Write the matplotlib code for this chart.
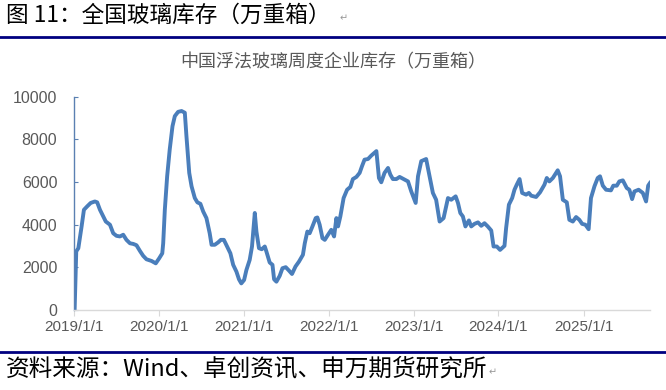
import matplotlib
matplotlib.use("Agg")
import matplotlib.pyplot as plt
import pandas as pd
from matplotlib.lines import Line2D

plt.rcParams['font.family'] = ['Liberation Sans', 'Noto Sans CJK SC', 'DejaVu Sans']

header = "图 11：全国玻璃库存（万重箱）"
title = "中国浮法玻璃周度企业库存（万重箱）"
footer = "资料来源：Wind、卓创资讯、申万期货研究所"

dates = [
    "2019-01-04", "2019-01-11", "2019-01-20", "2019-02-03", "2019-02-13", "2019-02-27",
    "2019-03-14", "2019-04-01", "2019-04-11", "2019-04-23", "2019-05-07", "2019-05-18",
    "2019-06-05", "2019-06-19", "2019-07-03", "2019-07-18", "2019-08-01", "2019-08-15",
    "2019-08-30", "2019-09-13", "2019-09-27", "2019-10-12", "2019-10-26", "2019-11-09",
    "2019-12-01", "2019-12-19", "2020-01-03", "2020-01-16", "2020-01-20", "2020-01-27",
    "2020-02-06", "2020-02-17", "2020-02-29", "2020-03-10", "2020-03-24", "2020-04-08",
    "2020-04-22", "2020-04-29", "2020-05-11", "2020-05-21", "2020-06-04", "2020-06-15",
    "2020-06-28", "2020-07-10", "2020-07-24", "2020-08-07", "2020-08-15", "2020-08-29",
    "2020-09-12", "2020-09-24", "2020-10-07", "2020-10-21", "2020-11-04", "2020-11-16",
    "2020-11-30", "2020-12-11", "2020-12-21", "2021-01-02", "2021-01-12", "2021-01-26",
    "2021-02-05", "2021-02-17", "2021-02-24", "2021-03-07", "2021-03-19", "2021-04-01",
    "2021-04-08", "2021-04-22", "2021-05-04", "2021-05-11", "2021-05-21", "2021-06-04",
    "2021-06-16", "2021-06-30", "2021-07-14", "2021-07-27", "2021-08-11", "2021-08-26",
    "2021-09-12", "2021-09-20", "2021-10-01", "2021-10-11", "2021-10-23", "2021-11-06",
    "2021-11-13", "2021-11-23", "2021-12-05", "2021-12-15", "2021-12-29", "2022-01-12",
    "2022-01-24", "2022-02-03", "2022-02-10", "2022-02-20", "2022-03-06", "2022-03-21",
    "2022-04-04", "2022-04-15", "2022-04-30", "2022-05-14", "2022-05-24", "2022-06-04",
    "2022-06-19", "2022-07-03", "2022-07-25", "2022-08-05", "2022-08-15", "2022-08-29",
    "2022-09-13", "2022-09-23", "2022-10-04", "2022-10-19", "2022-11-02", "2022-11-19",
    "2022-12-08", "2022-12-22", "2023-01-10", "2023-01-20", "2023-02-03", "2023-02-24",
    "2023-03-11", "2023-03-25", "2023-04-08", "2023-04-23", "2023-05-10", "2023-05-29",
    "2023-06-12", "2023-07-01", "2023-07-11", "2023-07-21", "2023-08-01", "2023-08-12",
    "2023-08-27", "2023-09-06", "2023-09-20", "2023-10-05", "2023-10-19", "2023-11-02",
    "2023-11-16", "2023-12-01", "2023-12-11", "2023-12-25", "2024-01-08", "2024-01-27",
    "2024-02-03", "2024-02-15", "2024-02-29", "2024-03-10", "2024-03-20", "2024-04-01",
    "2024-04-12", "2024-04-29", "2024-05-11", "2024-05-21", "2024-06-11", "2024-06-28",
    "2024-07-17", "2024-07-27", "2024-08-07", "2024-08-22", "2024-09-12", "2024-09-22",
    "2024-10-04", "2024-10-21", "2024-11-01", "2024-11-16", "2024-11-30", "2024-12-14",
    "2024-12-26", "2025-01-09", "2025-01-23", "2025-02-02", "2025-02-17", "2025-03-03",
    "2025-03-13", "2025-03-25", "2025-04-08", "2025-04-29", "2025-05-09", "2025-05-24",
    "2025-06-04", "2025-06-19", "2025-07-06", "2025-07-17", "2025-07-29", "2025-08-08",
    "2025-08-26", "2025-09-13", "2025-09-27", "2025-10-06", "2025-10-14",
]
inventory = [
    0, 2750, 2900, 3920, 4700, 4860,
    5020, 5090, 5050, 4700, 4390, 4150,
    4000, 3600, 3480, 3450, 3530, 3290,
    3130, 3100, 3040, 2770, 2540, 2380,
    2300, 2190, 2430, 2660, 3130, 4700,
    6270, 7520, 8620, 9090, 9290, 9330,
    9250, 8150, 6430, 5800, 5250, 5050,
    4980, 4620, 4310, 3600, 3060, 3060,
    3170, 3290, 3290, 2980, 2660, 2120,
    1800, 1440, 1250, 1410, 1880, 2350,
    2980, 4550, 3680, 2900, 2850, 2980,
    2740, 2230, 2120, 1440, 1330, 1600,
    1960, 2010, 1850, 1690, 2040, 2270,
    2590, 3130, 3680, 3600, 3920, 4310,
    4340, 4000, 3370, 3290, 3530, 3760,
    3450, 4310, 3920, 4390, 5250, 5640,
    5770, 6140, 6240, 6430, 6740, 7050,
    7080, 7240, 7450, 6190, 5990, 6430,
    6660, 6350, 6140, 6140, 6240, 6140,
    6030, 5560, 5020, 6270, 6980, 7080,
    6270, 5490, 5170, 4150, 4310, 5250,
    5170, 5330, 5020, 4550, 4390, 3920,
    4200, 3920, 4040, 4110, 3950, 4070,
    3920, 3730, 2980, 2980, 2820, 3010,
    3840, 4940, 5250, 5640, 5880, 6140,
    5490, 5410, 5490, 5360, 5300, 5520,
    5880, 6190, 6030, 6190, 6550, 6270,
    5170, 5050, 4230, 4150, 4360, 4230,
    4040, 4000, 3790, 5250, 5800, 6190,
    6270, 5830, 5640, 5610, 5830, 5830,
    6030, 6080, 5720, 5640, 5200, 5560,
    5640, 5490, 5090, 5830, 5960,
]
xtick_labels = ["2019/1/1", "2020/1/1", "2021/1/1", "2022/1/1", "2023/1/1", "2024/1/1", "2025/1/1"]
yticks = [0, 2000, 4000, 6000, 8000, 10000]

x = pd.to_datetime(dates)
xticks = pd.to_datetime([s.replace("/", "-") for s in xtick_labels])

fig = plt.figure(figsize=(6.66, 3.90), dpi=100)
fig.patch.set_facecolor("white")
ax = fig.add_axes([0.111, 0.205, 0.865, 0.547])

ax.plot(x, inventory, color="#4A7EBB", lw=2.8, solid_joinstyle="round")

ax.set_xlim(pd.Timestamp("2019-01-01"), pd.Timestamp("2025-10-14"))
ax.set_ylim(0, 10000)
ax.set_yticks(yticks)
ax.set_yticklabels([str(v) for v in yticks])
ax.set_xticks(xticks)
ax.set_xticklabels(xtick_labels)

for s in ["top", "right"]:
    ax.spines[s].set_visible(False)
ax.spines["left"].set_color("#5B80B2")
ax.spines["left"].set_linewidth(1.0)
ax.spines["bottom"].set_color("#D9D9D9")
ax.spines["bottom"].set_linewidth(1.0)
ax.tick_params(axis="y", direction="in", length=3, color="#5B80B2", labelsize=11.5,
               labelcolor="#595959", pad=12)
ax.tick_params(axis="x", direction="out", length=4, color="#D9D9D9", labelsize=11,
               labelcolor="#595959", pad=3)

fig.text(0.5, 1 - 62 / 390, title, ha="center", va="center", fontsize=13,
         color="#595959", family=["Noto Sans CJK SC", "DejaVu Sans"])

fig.text(6 / 666, 1 - 15 / 390, header, ha="left", va="center", fontsize=16.3,
         color="black", family=["Noto Sans CJK SC", "DejaVu Sans"])
fig.text(340 / 666, 1 - 18 / 390, "\u21b5", ha="left", va="center", fontsize=7,
         color="#999999", family=["DejaVu Sans"])
fig.add_artist(Line2D([0, 1], [1 - 37 / 390, 1 - 37 / 390], transform=fig.transFigure,
                      color="#000080", lw=2))

fig.add_artist(Line2D([0, 1], [1 - 352 / 390, 1 - 352 / 390], transform=fig.transFigure,
                      color="#000080", lw=2))
fig.text(6 / 666, 1 - 369 / 390, footer, ha="left", va="center", fontsize=17,
         color="black", family=["Noto Sans CJK SC", "DejaVu Sans"])
fig.text(489 / 666, 1 - 372 / 390, "\u21b5", ha="left", va="center", fontsize=7,
         color="#999999", family=["DejaVu Sans"])

fig.savefig("out.png", dpi=100, facecolor="white")
